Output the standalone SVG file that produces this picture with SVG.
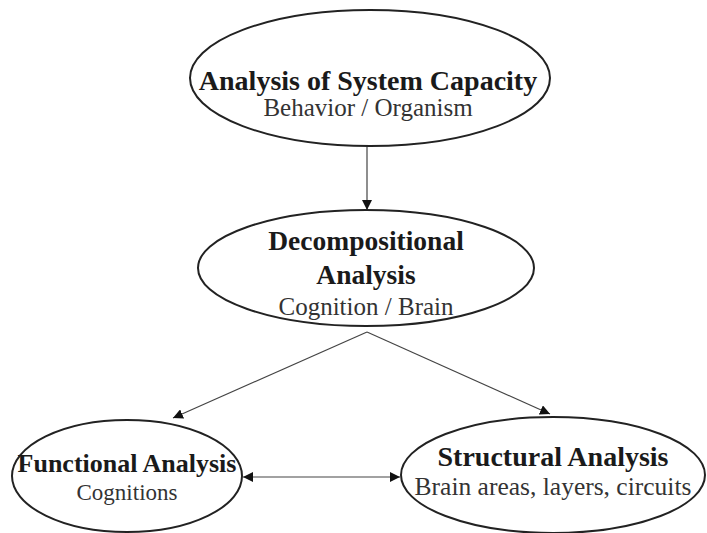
<svg xmlns="http://www.w3.org/2000/svg" width="707" height="533" viewBox="0 0 707 533">
<style>
.node ellipse{fill:#fff;stroke:#222;stroke-width:2}
.t{font-family:"Liberation Serif","Times New Roman",serif;font-weight:bold;fill:#1a1a1a;text-anchor:middle}
.s{font-family:"Liberation Serif","Times New Roman",serif;fill:#333;text-anchor:middle}
.c line{stroke:#444;stroke-width:1.2}
</style>
<defs>
<marker id="ah" viewBox="0 0 10 10" refX="10" refY="5" markerWidth="10" markerHeight="10" markerUnits="userSpaceOnUse" orient="auto-start-reverse"><path d="M0,0L10,5L0,10z" fill="#111"/></marker>
</defs>
<g id="connectors" class="c">
<line x1="367" y1="146" x2="367" y2="210" marker-end="url(#ah)"/>
<line x1="367" y1="332" x2="173" y2="418" marker-end="url(#ah)"/>
<line x1="367" y1="332" x2="550" y2="414" marker-end="url(#ah)"/>
<line x1="243" y1="477" x2="400" y2="477" marker-start="url(#ah)" marker-end="url(#ah)"/>
</g>
<g id="n-capacity" class="node">
<ellipse cx="370" cy="78" rx="180" ry="68"/>
<text class="t" x="368" y="90" font-size="28">Analysis of System Capacity</text>
<text class="s" x="368" y="116" font-size="25">Behavior / Organism</text>
</g>
<g id="n-decomp" class="node">
<ellipse cx="366" cy="268" rx="168" ry="58"/>
<text class="t" x="366" y="250" font-size="27.5">Decompositional</text>
<text class="t" x="366" y="284" font-size="27.5">Analysis</text>
<text class="s" x="366" y="315" font-size="25">Cognition / Brain</text>
</g>
<g id="n-functional" class="node">
<ellipse cx="127" cy="476" rx="115" ry="56"/>
<text class="t" x="127" y="472" font-size="26">Functional Analysis</text>
<text class="s" x="127" y="500" font-size="23">Cognitions</text>
</g>
<g id="n-structural" class="node">
<ellipse cx="553" cy="475" rx="152" ry="58"/>
<text class="t" x="553" y="466" font-size="28">Structural Analysis</text>
<text class="s" x="553" y="495" font-size="25.5">Brain areas, layers, circuits</text>
</g>
</svg>
